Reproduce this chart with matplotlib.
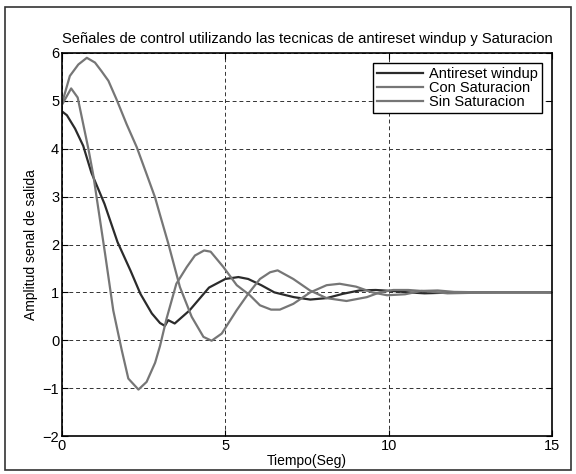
import numpy as np
import matplotlib.pyplot as plt
from matplotlib.patches import Rectangle

plt.rcParams["font.family"] = ["Liberation Sans", "DejaVu Sans"]

# Antireset windup (curva oscura)
t_anti = [0, 0.15, 0.4, 0.65, 0.9, 1.3, 1.7, 2.1, 2.4, 2.75, 3.0, 3.15, 3.25,
          3.45, 3.9, 4.5, 5.0, 5.4, 5.7, 6.1, 6.5, 7.1, 7.6, 8.1, 8.6, 9.1,
          9.6, 10.1, 10.6, 11.1, 11.6, 12.5, 13.5, 15]
y_anti = [4.78, 4.7, 4.42, 4.06, 3.5, 2.85, 2.05, 1.45, 0.97, 0.56, 0.36, 0.3,
          0.42, 0.35, 0.62, 1.1, 1.28, 1.32, 1.28, 1.15, 1.0, 0.9, 0.85, 0.88,
          0.97, 1.04, 1.05, 1.03, 1.0, 0.98, 0.99, 1.0, 1.0, 1.0]

# Con Saturacion
t_con = [0, 0.28, 0.48, 0.81, 0.96, 1.32, 1.57, 1.72, 1.83, 2.03, 2.34, 2.59,
         2.85, 3.0, 3.2, 3.5, 3.82, 4.07, 4.35, 4.55, 4.94, 5.35, 5.75, 6.06,
         6.4, 6.67, 7.08, 7.6, 8.1, 8.5, 9.0, 9.5, 9.95, 10.5, 11.0, 11.5,
         12.0, 13.0, 15]
y_con = [4.92, 5.26, 5.07, 3.99, 3.44, 1.8, 0.62, 0.14, -0.21, -0.8, -1.03,
         -0.87, -0.47, -0.12, 0.45, 1.18, 1.53, 1.77, 1.875, 1.85, 1.53, 1.15,
         0.94, 0.73, 0.64, 0.64, 0.76, 1.0, 1.15, 1.18, 1.12, 1.0, 0.94, 0.96,
         1.03, 1.04, 1.01, 1.0, 1.0]

# Sin Saturacion
t_sin = [0, 0.24, 0.5, 0.76, 1.01, 1.21, 1.42, 1.67, 1.98, 2.29, 2.59, 2.85,
         3.0, 3.25, 3.61, 3.97, 4.33, 4.58, 4.89, 5.35, 5.7, 6.06, 6.37, 6.6,
         7.08, 7.59, 8.1, 8.71, 9.33, 9.73, 10.14, 10.6, 11.2, 11.8, 12.5,
         13.5, 15]
y_sin = [4.95, 5.52, 5.76, 5.9, 5.8, 5.62, 5.42, 5.03, 4.51, 4.03, 3.47, 2.98,
         2.62, 2.03, 1.11, 0.49, 0.07, -0.01, 0.14, 0.63, 0.97, 1.28, 1.42,
         1.46, 1.28, 1.04, 0.88, 0.82, 0.9, 1.0, 1.05, 1.05, 1.02, 0.98, 0.99,
         1.0, 1.0]

x_ticks = [0, 5, 10, 15]
y_ticks = [-2, -1, 0, 1, 2, 3, 4, 5, 6]

fig = plt.figure(figsize=(5.76, 4.74), dpi=100)
fig.patches.append(Rectangle((5 / 576, 4 / 474), 566 / 576, 463 / 474,
                             transform=fig.transFigure, fill=False,
                             edgecolor="#333333", linewidth=1.2))

ax = fig.add_axes([62 / 576, 1 - 436 / 474, 490 / 576, 383 / 474])

ax.plot(t_anti, y_anti, color="#2b2b2b", linewidth=1.6, label="Antireset windup")
ax.plot(t_con, y_con, color="#767676", linewidth=1.6, label="Con Saturacion")
ax.plot(t_sin, y_sin, color="#767676", linewidth=1.6, label="Sin Saturacion")

ax.set_xlim(0, 15)
ax.set_ylim(-2, 6)
ax.set_xticks(x_ticks)
ax.set_yticks(y_ticks)
ax.tick_params(direction="in", top=True, right=True, labelsize=10.5, length=4, pad=2)
ax.grid(True, color="#333333", linestyle=(0, (4, 3)), linewidth=0.7)
for s in ax.spines.values():
    s.set_linewidth(1.2)

ax.set_title("Señales de control utilizando las tecnicas de antireset windup y Saturacion",
             fontsize=10.6, pad=7)
ax.set_xlabel("Tiempo(Seg)", fontsize=10, labelpad=1)
ax.set_ylabel("Amplitud senal de salida", fontsize=10, labelpad=3)

leg = ax.legend(loc="upper right", fontsize=10.5, fancybox=False, framealpha=1,
                edgecolor="black", handlelength=3.2, borderaxespad=0.7,
                labelspacing=0.0, handletextpad=0.4, borderpad=0.25)
leg.get_frame().set_linewidth(1.0)

fig.savefig("out.png", dpi=100)
